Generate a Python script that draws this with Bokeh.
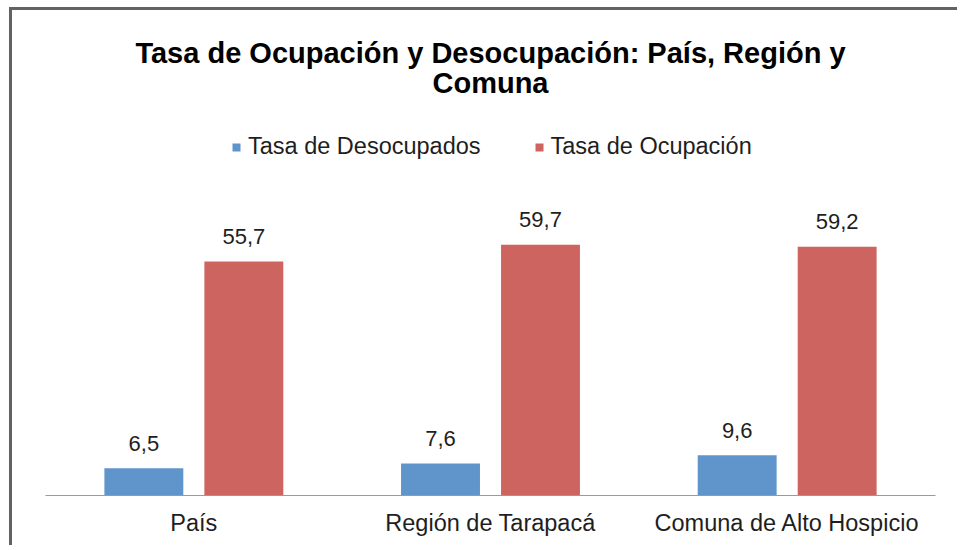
from bokeh.plotting import figure
from bokeh.models import (ColumnDataSource, FactorRange, Range1d, Label, LabelSet,
                          Legend, LegendItem)
from bokeh.core.properties import value
from bokeh.transform import dodge
from bokeh.embed import file_html
from bokeh.resources import INLINE

# ---- data ----
categories = ["País", "Región de Tarapacá", "Comuna de Alto Hospicio"]
tasa_desocupados = [6.5, 7.6, 9.6]
tasa_ocupacion = [55.7, 59.7, 59.2]
series_names = ["Tasa de Desocupados", "Tasa de Ocupación"]
title_lines = ["Tasa de Ocupación y Desocupación: País, Región y", "Comuna"]

BLUE = "#5f95ca"
RED = "#cd645f"
TXT = "#1e1e1e"
FONT = "Liberation Sans"


def fmt(v):
    return f"{v:.1f}".replace(".", ",")


src = ColumnDataSource(dict(
    cat=categories,
    des=tasa_desocupados,
    ocu=tasa_ocupacion,
    des_txt=[fmt(v) for v in tasa_desocupados],
    ocu_txt=[fmt(v) for v in tasa_ocupacion],
))

p = figure(
    width=948, height=538,
    x_range=FactorRange(factors=categories, range_padding=0),
    y_range=Range1d(0, 485 / 4.2),
    output_backend="svg", toolbar_location=None, tools="",
    min_border_left=33, min_border_right=25, min_border_top=0, min_border_bottom=53,
)
p.title.visible = False
p.styles = {"box-shadow": "-3px -3px 0 0 #626262",
            "margin-left": "12px", "margin-top": "10px"}
p.outline_line_color = None
p.xgrid.visible = False
p.ygrid.visible = False
p.yaxis.visible = False
p.background_fill_color = "white"
p.border_fill_color = "white"

OFF = 0.1685
W = 0.266
r1 = p.vbar(x=dodge("cat", -OFF, range=p.x_range), top="des", width=W, bottom=0,
            source=src, fill_color=BLUE, line_color=None)
r2 = p.vbar(x=dodge("cat", OFF, range=p.x_range), top="ocu", width=W, bottom=0,
            source=src, fill_color=RED, line_color=None)

for col, txt, d in (("des", "des_txt", -OFF), ("ocu", "ocu_txt", OFF)):
    p.add_layout(LabelSet(
        x=dodge("cat", d, range=p.x_range), y=col, text=txt, source=src,
        y_offset=25, text_align="center", text_baseline="middle",
        text_font=value(FONT), text_font_size="22px", text_color=TXT))

ax = p.xaxis[0]
ax.axis_line_color = "#9a9a9a"
ax.axis_line_width = 1
ax.major_tick_line_color = None
ax.minor_tick_line_color = None
ax.major_tick_out = 0
ax.major_tick_in = 0
ax.major_label_standoff = 14
ax.major_label_text_font = FONT
ax.major_label_text_font_size = "23.5px"
ax.major_label_text_color = TXT

# title (two centred lines)
for line, yv in zip(title_lines, (105.4, 98.3)):
    p.add_layout(Label(x=1.5, y=yv, text=line, text_align="center",
                       text_baseline="middle", text_font=FONT,
                       text_font_size="29px", text_font_style="bold",
                       text_color="black"))

legend = Legend(
    items=[LegendItem(label=series_names[0], renderers=[r1]),
           LegendItem(label=series_names[1], renderers=[r2])],
    orientation="horizontal", location=(186, 335),
    glyph_width=10, glyph_height=10, label_standoff=7, spacing=53,
    padding=0, margin=0, border_line_color=None, background_fill_alpha=0,
    label_text_font=FONT, label_text_font_size="23.5px", label_text_color=TXT,
)
p.add_layout(legend, "center")

open("out.html", "w").write(file_html(p, INLINE))
